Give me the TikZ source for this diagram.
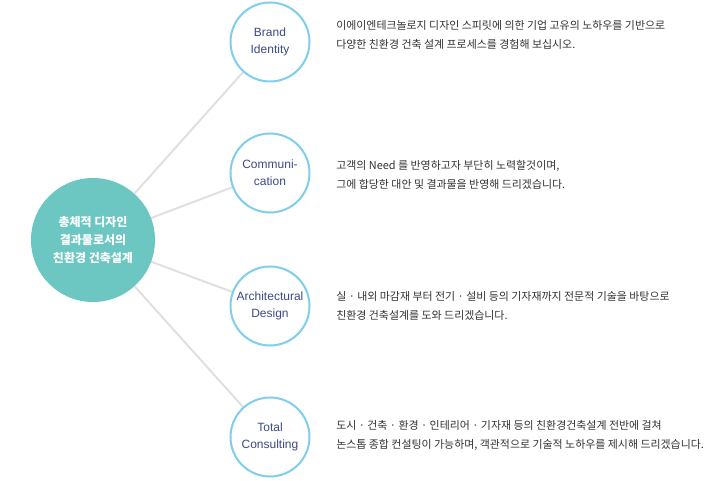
\documentclass[tikz,border=0pt]{standalone}
\usepackage{fontspec}
\setmainfont{Liberation Sans}
\newfontfamily\kr{Noto Sans CJK KR}
\usetikzlibrary{backgrounds}
\definecolor{teal1}{RGB}{108,198,193}
\definecolor{ring}{RGB}{128,206,236}
\definecolor{navy}{RGB}{60,74,135}
\definecolor{linegray}{RGB}{224,224,224}
\definecolor{txt}{RGB}{50,50,50}
\begin{document}
\begin{tikzpicture}[x=0.75pt,y=-0.75pt,
  hub/.style={circle,fill=teal1,minimum size=124*0.75pt,inner sep=0pt,text=white,
    font=\kr\fontsize{9}{13.5}\selectfont\bfseries,align=center},
  topic/.style={circle,draw=ring,line width=1.5pt,fill=white,minimum size=79*0.75pt,inner sep=0pt,
    text=navy,font=\fontsize{9}{12.75}\selectfont,align=center},
  desc/.style={anchor=west,text=txt,font=\kr\fontsize{8.2}{14.25}\selectfont,align=left,inner sep=0pt},
  link/.style={draw=linegray,line width=1.5pt}]
\useasboundingbox (0,0) rectangle (721,481);
\node[hub] (hub) at (93,240) {총체적 디자인\\결과물로서의\\친환경 건축설계};
\node[topic] (t1) at (270,42) {Brand\\Identity};
\node[topic] (t2) at (270,173) {Communi-\\cation};
\node[topic] (t3) at (270,306) {Architectural\\Design};
\node[topic] (t4) at (270,437) {Total\\Consulting};
\begin{scope}[on background layer]
\draw[link] (hub) -- (t1);
\draw[link] (hub) -- (t2);
\draw[link] (hub) -- (t3);
\draw[link] (hub) -- (t4);
\end{scope}
\node[desc] (d1) at (336,35) {이에이엔테크놀로지 디자인 스피릿에 의한 기업 고유의 노하우를 기반으로\\다양한 친환경 건축 설계 프로세스를 경험해 보십시오.};
\node[desc] (d2) at (336,175) {고객의 Need 를 반영하고자 부단히 노력할것이며,\\그에 합당한 대안 및 결과물을 반영해 드리겠습니다.};
\node[desc] (d3) at (336,306) {실 · 내외 마감재 부터 전기 · 설비 등의 기자재까지 전문적 기술을 바탕으로\\친환경 건축설계를 도와 드리겠습니다.};
\node[desc] (d4) at (336,435) {도시 · 건축 · 환경 · 인테리어 · 기자재 등의 친환경건축설계 전반에 걸쳐\\논스톱 종합 컨설팅이 가능하며, 객관적으로 기술적 노하우를 제시해 드리겠습니다.};
\end{tikzpicture}
\end{document}
